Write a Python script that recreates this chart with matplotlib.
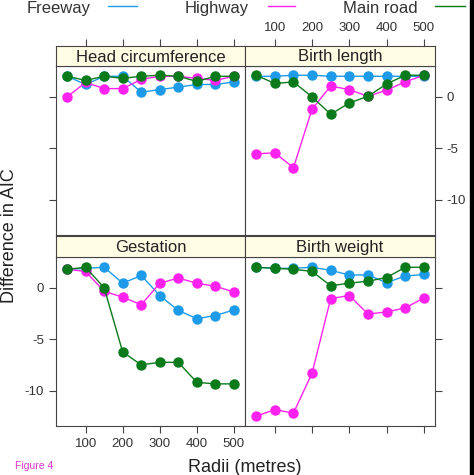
import numpy as np
import matplotlib.pyplot as plt
from matplotlib.lines import Line2D

plt.rcParams['font.family'] = ['Liberation Sans', 'DejaVu Sans']

radii = [50, 100, 150, 200, 250, 300, 350, 400, 450, 500]
outcomes = ['Head circumference', 'Birth length', 'Gestation', 'Birth weight']
roads = ['Freeway', 'Highway', 'Main road']

# difference in AIC, one list per road type, per outcome
head_freeway = [2.0, 1.2, 2.0, 2.0, 0.45, 0.7, 0.95, 1.2, 1.2, 1.45]
head_highway = [0.0, 1.4, 0.8, 0.8, 1.7, 2.0, 2.0, 1.8, 1.6, 2.0]
head_main = [2.0, 1.6, 2.0, 1.8, 2.0, 2.1, 2.0, 1.5, 2.0, 2.0]

length_freeway = [2.0, 2.0, 2.1, 2.1, 2.0, 2.0, 2.0, 2.0, 2.0, 2.0]
length_highway = [-5.55, -5.45, -6.9, -1.2, 1.05, 0.7, 0.05, 0.65, 1.45, 2.1]
length_main = [2.1, 1.3, 1.45, 0.0, -1.7, -0.6, 0.05, 1.25, 2.1, 2.1]

gest_freeway = [1.8, 1.9, 2.0, 0.45, 1.2, -0.75, -2.2, -3.0, -2.7, -2.15]
gest_highway = [1.8, 1.6, -0.35, -0.9, -1.65, 0.45, 0.95, 0.45, 0.15, -0.4]
gest_main = [1.8, 2.0, 0.0, -6.25, -7.5, -7.25, -7.25, -9.2, -9.35, -9.35]

weight_freeway = [2.0, 1.9, 1.9, 2.0, 1.7, 1.25, 1.25, 0.5, 1.15, 1.3]
weight_highway = [-12.5, -11.85, -12.2, -8.3, -1.05, -0.75, -2.55, -2.35, -1.95, -1.0]
weight_main = [2.0, 1.9, 1.8, 1.6, 0.2, 0.45, 0.65, 1.0, 2.0, 2.0]

panel_data = [
    [head_freeway, head_highway, head_main],
    [length_freeway, length_highway, length_main],
    [gest_freeway, gest_highway, gest_main],
    [weight_freeway, weight_highway, weight_main],
]
colors = ['#1e9be8', '#ff22ee', '#0a7a1a']
xticks = [100, 200, 300, 400, 500]

W, H = 474, 475
fig = plt.figure(figsize=(W / 100, H / 100), dpi=100)


def box(x0, y0, x1, y1):
    # pixel box (from top-left) -> figure fraction rect
    return [x0 / W, 1 - y1 / H, (x1 - x0) / W, (y1 - y0) / H]


def style(ax):
    for sp in ax.spines.values():
        sp.set_color(frame)
        sp.set_linewidth(0.8)
    ax.tick_params(colors=frame, labelcolor='#333333', labelsize=9.5,
                   length=5, width=0.8, direction='out')


cols = [(56, 245), (245, 435)]
rows = [(66, 235), (257, 426)]
strips = [(46, 66), (236, 257)]
frame = '#444444'

for k in range(4):
    r, c = divmod(k, 2)
    x0, x1 = cols[c]
    y0, y1 = rows[r]
    ax = fig.add_axes(box(x0, y0, x1, y1))
    for s, col in zip(panel_data[k], colors):
        ax.plot(radii, s, color=col, lw=1, marker='o', ms=6.5, mec=col, mfc=col)
    ax.set_xlim(20, 530)
    ax.set_ylim(-13.45, 3.0)
    ax.set_xticks(xticks)
    ax.set_yticks([0, -5, -10])
    ax.set_yticklabels(['0', '-5', '-10'])
    style(ax)
    # lattice style alternating axes
    ax.tick_params(axis='x', top=False, bottom=(r == 1),
                   labeltop=False, labelbottom=(r == 1 and c == 0))
    ax.tick_params(axis='y', left=(c == 0), right=(c == 1),
                   labelleft=(r == 1 and c == 0), labelright=(r == 0 and c == 1))

    sa = fig.add_axes(box(x0, strips[r][0], x1, strips[r][1]))
    sa.set_facecolor('#fffde3')
    sa.set_xlim(20, 530)
    sa.set_xticks(xticks)
    sa.set_yticks([])
    style(sa)
    sa.tick_params(axis='x', bottom=False, labelbottom=False, top=(r == 0),
                   labeltop=(r == 0 and c == 1))
    sa.text(0.5, 0.45, outcomes[k], transform=sa.transAxes, ha='center',
            va='center', fontsize=12, color='#222222')

# legend across the top
leg_text_x = [27, 185, 343]
leg_line_x = [(108, 137), (268, 295), (435, 465)]
for name, tx, (lx0, lx1), col in zip(roads, leg_text_x, leg_line_x, colors):
    fig.text(tx / W, 1 - 13 / H, name, fontsize=12, color='#333333',
             ha='left', va='baseline')
    fig.add_artist(Line2D([lx0 / W, lx1 / W], [1 - 6 / H, 1 - 6 / H],
                          color=col, lw=1, transform=fig.transFigure))

fig.text(245 / W, 1 - 467 / H, 'Radii (metres)', fontsize=13, color='#222222',
         ha='center', va='center')
fig.text(10 / W, 1 - 236 / H, 'Difference in AIC', fontsize=13, color='#222222',
         ha='center', va='center', rotation=90)
fig.text(15 / W, 1 - 466 / H, 'Figure 4', fontsize=7.5, color='#dd33cc',
         ha='left', va='center')

# black edge on the right
fig.add_artist(plt.Rectangle((470 / W, 0), 4 / W, 1, color='black',
                             transform=fig.transFigure))

fig.savefig('out.png', dpi=100)
